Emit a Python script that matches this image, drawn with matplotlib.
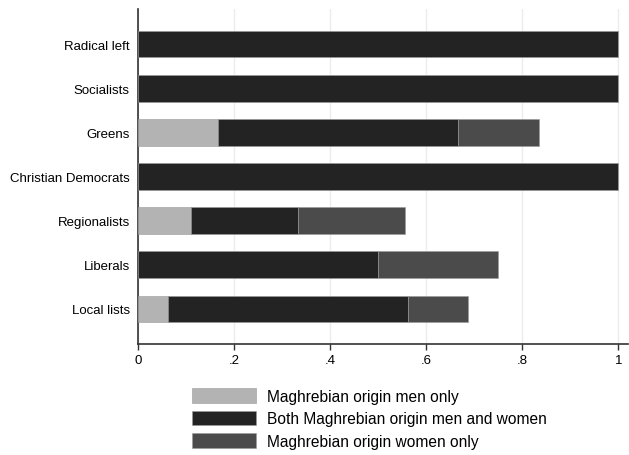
import matplotlib
matplotlib.use("Agg")
import matplotlib.pyplot as plt
import numpy as np

plt.rcParams['font.family'] = ['Liberation Sans', 'DejaVu Sans']

parties = ["Radical left", "Socialists", "Greens", "Christian Democrats",
           "Regionalists", "Liberals", "Local lists"]
men_only = [0, 0, 0.167, 0, 0.111, 0, 0.0625]
both = [1.0, 1.0, 0.5, 1.0, 0.222, 0.5, 0.5]
women_only = [0, 0, 0.167, 0, 0.222, 0.25, 0.125]

labels = ["Maghrebian origin men only",
          "Both Maghrebian origin men and women",
          "Maghrebian origin women only"]
colors = ["#b3b3b3", "#232323", "#4b4b4b"]

fig = plt.figure(figsize=(6.29, 4.56), dpi=100)
ax = fig.add_axes([138 / 629, 111 / 456, 490 / 629, 335 / 456])

y = np.arange(len(parties))
left = np.zeros(len(parties))
for vals, lab, col in zip([men_only, both, women_only], labels, colors):
    ax.barh(y, vals, left=left, height=0.6, color=col, label=lab,
            edgecolor="#9a9a9a", linewidth=0.4, zorder=3)
    left += np.array(vals)

ax.set_yticks(y)
ax.set_yticklabels(parties, fontsize=9.5)
ax.set_ylim(len(parties) - 1 + 0.8, -0.8)
ax.set_xlim(0, 1.02)
ax.set_xticks([0, 0.2, 0.4, 0.6, 0.8, 1.0])
ax.set_xticklabels(["0", ".2", ".4", ".6", ".8", "1"], fontsize=9.5)
ax.tick_params(axis="y", length=0, pad=6)
ax.tick_params(axis="x", length=4, width=1, color="#333333")
ax.grid(axis="x", color="#ececec", linewidth=1, zorder=0)
for s in ["top", "right"]:
    ax.spines[s].set_visible(False)
for s in ["left", "bottom"]:
    ax.spines[s].set_color("#333333")
    ax.spines[s].set_linewidth(1.2)

fig.legend(loc="upper left", bbox_to_anchor=(186 / 629, 1 - 383 / 456),
           frameon=False, fontsize=11.2, handlelength=4.1, handleheight=1.1,
           labelspacing=0.42, handletextpad=0.7, borderaxespad=0)

fig.savefig("out.png", dpi=100)
